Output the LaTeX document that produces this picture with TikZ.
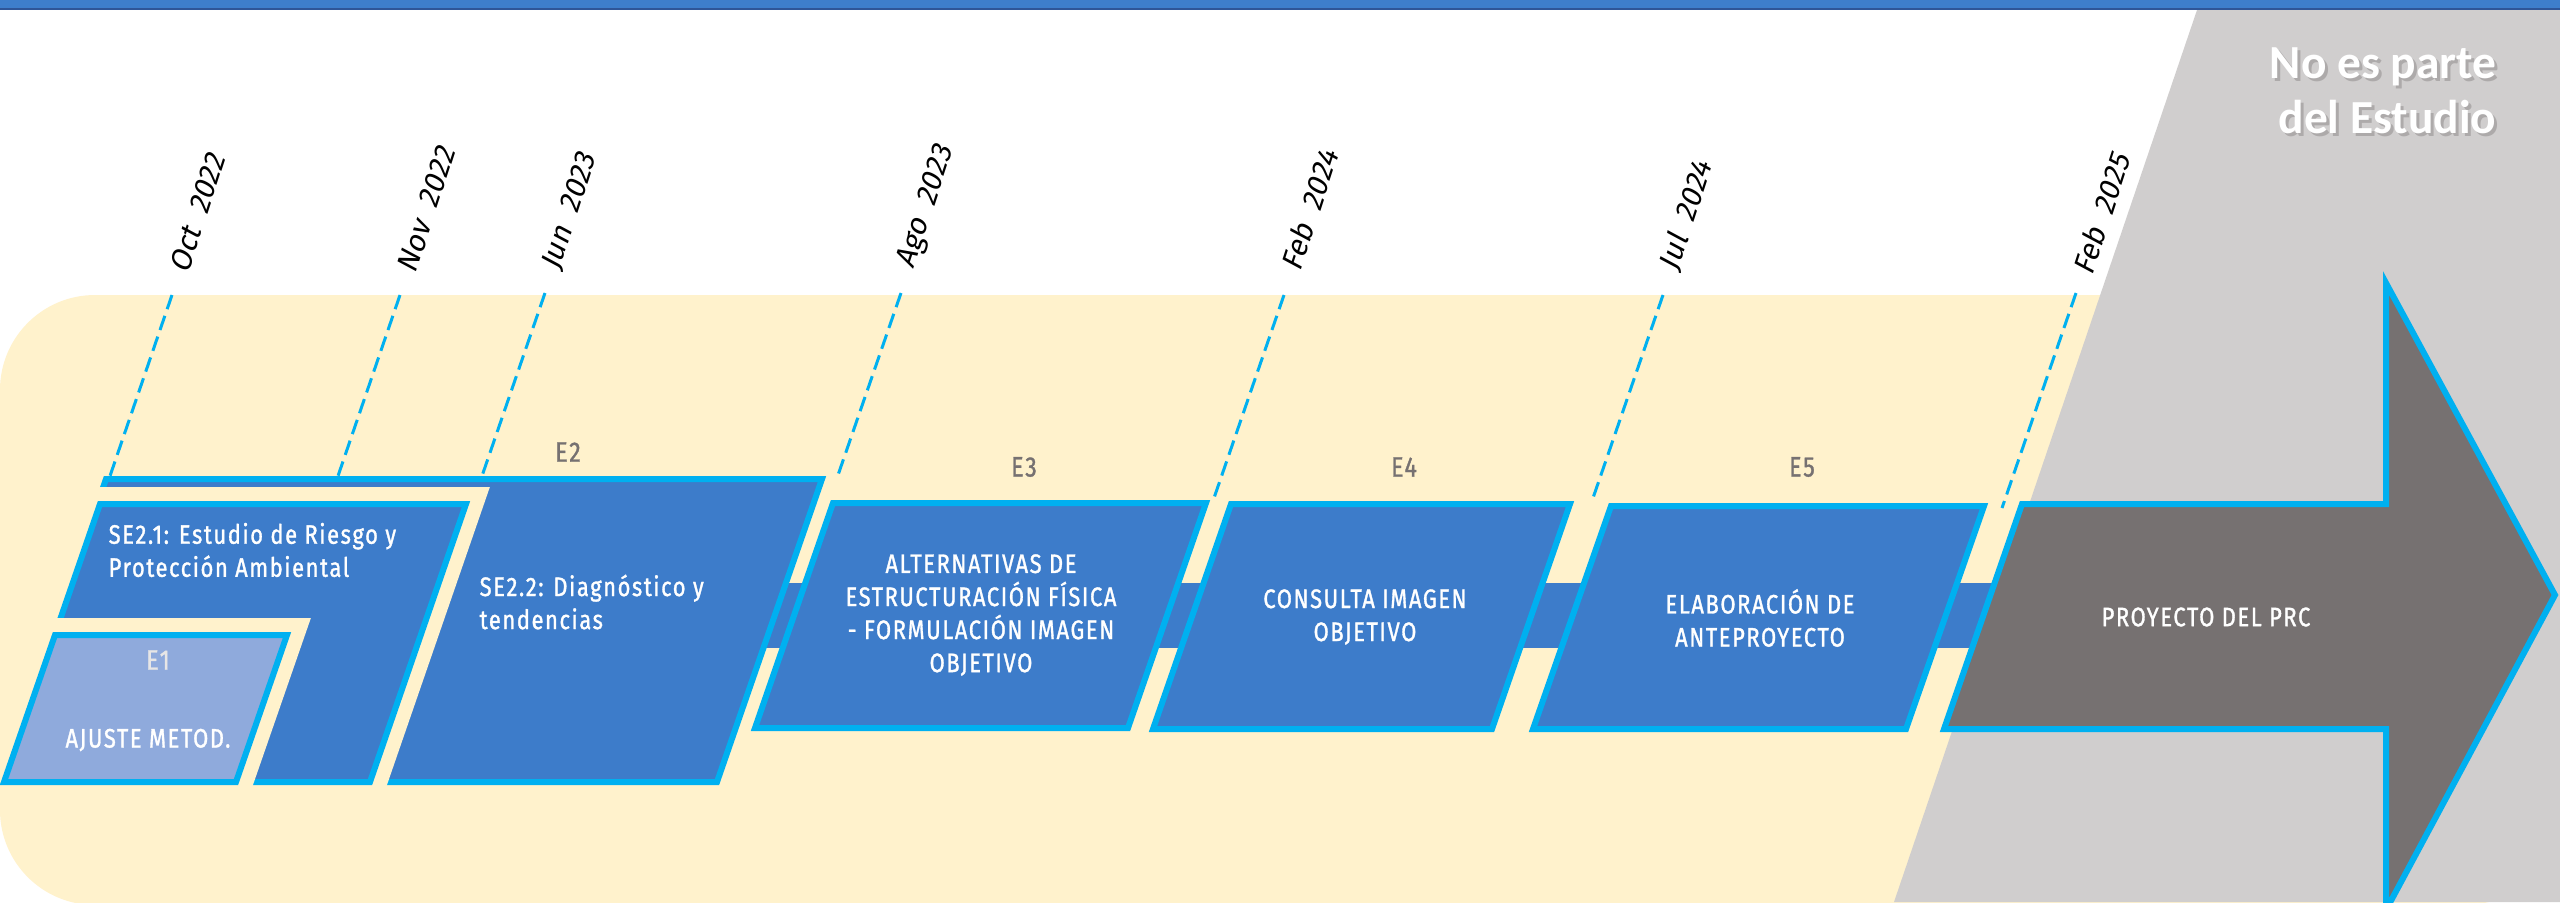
\documentclass[tikz,border=0pt]{standalone}
\usepackage{fontspec}
\setmainfont{Fira Sans}[FakeStretch=0.82, LetterSpace=6, FakeBold=1.2]
\newfontfamily\datefont{Fira Sans}[FakeSlant=0.18]
\newfontfamily\notefont{Carlito}
\definecolor{beige}{HTML}{FFF2CC}
\definecolor{greyzone}{HTML}{D0CECE}
\definecolor{bandblue}{HTML}{3E7ECB}
\definecolor{banddark}{HTML}{2F5597}
\definecolor{boxblue}{HTML}{3D7CCA}
\definecolor{cyanline}{HTML}{00B0F0}
\definecolor{lightblue}{HTML}{8FAADC}
\definecolor{darkgrey}{HTML}{767171}
\definecolor{e1grey}{HTML}{E7E6E6}

\begin{document}
\begin{tikzpicture}[x=0.1mm, y=-0.1mm,
    box/.style={draw=cyanline, fill=boxblue, line width=0.6mm, line join=miter},
    halo/.style={preaction={draw=beige, line width=3.4mm, line join=miter}},
    stage/.style={text=darkgrey, font=\fontsize{8}{9.4}\selectfont, inner sep=0pt},
    boxtext/.style={text=white, font=\fontsize{7.6}{9.4}\selectfont, align=center, inner sep=0pt},
    tick/.style={draw=cyanline, line width=0.3mm, dash pattern=on 1.5mm off 0.7mm},
    datelbl/.style={font=\datefont\fontsize{8.5}{10}\selectfont, rotate=72, anchor=west, inner sep=0pt},
    note/.style={font=\notefont\bfseries\fontsize{13.5}{15.6}\selectfont, align=right, anchor=north east, inner sep=0pt}]
    \useasboundingbox (0,0) rectangle (2560,902);

    % Background
    \fill[white] (0,0) rectangle (2560,902);
    \fill[beige, rounded corners=9.5mm] (2560,295) -- (0,295) -- (0,905) -- (2560,905) -- cycle;
    \fill[greyzone] (2197,10) -- (2560,10) -- (2560,902) -- (1894,902) -- cycle;
    \fill[bandblue] (0,0) rectangle (2560,10);
    \draw[banddark, line width=0.2mm] (0,9) -- (2560,9);

    % Note
    \node[note, text=darkgrey!60] (notashadow) at (2500,50) {No es parte\\del Estudio};
    \node[note, text=white] (nota) at (2497,47) {No es parte\\del Estudio};

    % Dates
    \node[datelbl] (dOct) at (178,272) {Oct\ \ 2022};
    \node[datelbl] (dNov) at (406,272) {Nov\ \ 2022};
    \node[datelbl] (dJun) at (551,270) {Jun\ \ 2023};
    \node[datelbl] (dAgo) at (907,268) {Ago\ \ 2023};
    \node[datelbl] (dFeb) at (1290,270) {Feb\ \ 2024};
    \node[datelbl] (dJul) at (1669,270) {Jul\ \ 2024};
    \node[datelbl] (dFebb) at (2082,274) {Feb\ \ 2025};

    \coordinate (tOct) at (172,295);  \coordinate (bOct) at (110,476);
    \coordinate (tNov) at (400,295);  \coordinate (bNov) at (338,476);
    \coordinate (tJun) at (545,293);  \coordinate (bJun) at (482,476);
    \coordinate (tAgo) at (901,293);  \coordinate (bAgo) at (837,478);
    \coordinate (tFeb) at (1284,295); \coordinate (bFeb) at (1214,498);
    \coordinate (tJul) at (1663,295); \coordinate (bJul) at (1593,498);
    \coordinate (tFebb) at (2076,293); \coordinate (bFebb) at (2002,508);

    \draw[tick] (tOct) -- (bOct);
    \draw[tick] (tNov) -- (bNov);
    \draw[tick] (tJun) -- (bJun);
    \draw[tick] (tAgo) -- (bAgo);
    \draw[tick] (tFeb) -- (bFeb);
    \draw[tick] (tJul) -- (bJul);
    \draw[tick] (tFebb) -- (bFebb);

    % Band behind the stages
    \fill[boxblue] (700,583) rectangle (2020,648);

    % Stages
    \draw[box] (106,479) -- (822,479) -- (717,782) -- (1,782) -- cycle;
    \draw[box, halo] (100,504) -- (466,504) -- (370,782) -- (4,782) -- cycle;
    \draw[box, halo, fill=lightblue] (55,635) -- (287,635) -- (236,782) -- (4,782) -- cycle;
    \draw[box] (833,503) -- (1206,503) -- (1128,728) -- (755,728) -- cycle;
    \draw[box] (1231,504) -- (1570,504) -- (1492,729) -- (1153,729) -- cycle;
    \draw[box] (1611,506) -- (1984,506) -- (1906,729) -- (1533,729) -- cycle;
    \draw[box, fill=darkgrey] (2022,504) -- (2386,504) -- (2386,283) -- (2555,595)
        -- (2386,910) -- (2386,729) -- (1944,729) -- cycle;

    % Labels
    \node[stage] (e2) at (568,452) {E2};
    \node[stage] (e3) at (1024,467) {E3};
    \node[stage] (e4) at (1404,467) {E4};
    \node[stage] (e5) at (1802,467) {E5};
    \node[stage, text=e1grey] (e1) at (158,660) {E1};
    \node[boxtext] (ajuste) at (148,740) {AJUSTE METOD.};
    \node[boxtext, align=left, anchor=west] (se21) at (108,550) {SE2.1: Estudio de Riesgo y\\Protección Ambiental};
    \node[boxtext, align=left, anchor=west] (se22) at (479,602) {SE2.2: Diagnóstico y\\tendencias};
    \node[boxtext] (alt) at (981,615) {ALTERNATIVAS DE\\ESTRUCTURACIÓN FÍSICA\\- FORMULACIÓN IMAGEN\\OBJETIVO};
    \node[boxtext] (consulta) at (1365,617) {CONSULTA IMAGEN\\OBJETIVO};
    \node[boxtext] (elab) at (1760,618) {ELABORACIÓN DE\\ANTEPROYECTO};
    \node[boxtext] (prc) at (2206,617) {PROYECTO DEL PRC};
\end{tikzpicture}
\end{document}
